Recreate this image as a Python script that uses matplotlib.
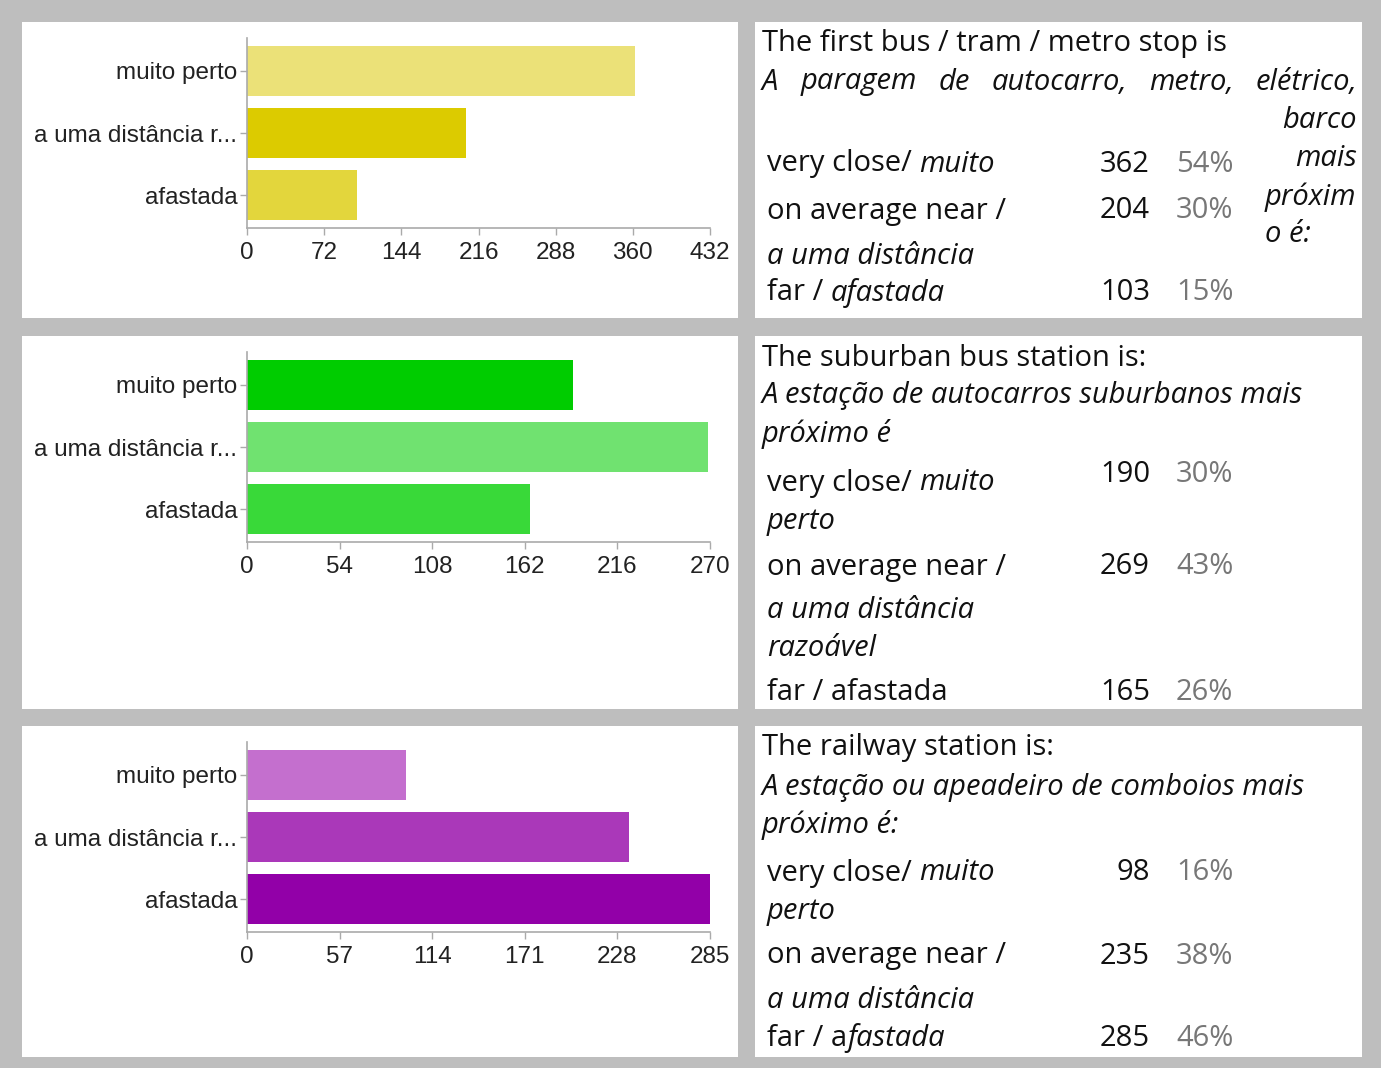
import matplotlib
matplotlib.use("Agg")
import matplotlib.pyplot as plt
from matplotlib.patches import Rectangle

# ---- data ----
categories = ["muito perto", "a uma distância r...", "afastada"]

stop_counts = [362, 204, 103]
stop_pcts = ["54%", "30%", "15%"]
stop_ticks = [0, 72, 144, 216, 288, 360, 432]
stop_colors = ["#ebe178", "#dccb00", "#e3d63c"]

suburban_counts = [190, 269, 165]
suburban_pcts = ["30%", "43%", "26%"]
suburban_ticks = [0, 54, 108, 162, 216, 270]
suburban_colors = ["#00cc00", "#70e270", "#39d939"]

rail_counts = [98, 235, 285]
rail_pcts = ["16%", "38%", "46%"]
rail_ticks = [0, 57, 114, 171, 228, 285]
rail_colors = ["#c46fce", "#aa38b9", "#9200a8"]

W, H = 1381, 1068
DPI = 100
fig = plt.figure(figsize=(W / DPI, H / DPI), dpi=DPI)
fig.patch.set_facecolor("#bebebe")

# overlay axes in pixel coordinates (y downward)
ov = fig.add_axes([0, 0, 1, 1], zorder=0)
ov.set_xlim(0, W)
ov.set_ylim(H, 0)
ov.axis("off")

# white panels: (x0, y0, x1, y1)
panels = [
    (22, 22, 738, 318), (755, 22, 1362, 318),
    (22, 336, 738, 709), (755, 336, 1362, 709),
    (22, 726, 738, 1057), (755, 726, 1362, 1057),
]
for x0, y0, x1, y1 in panels:
    ov.add_patch(Rectangle((x0, y0), x1 - x0, y1 - y0, facecolor="white",
                           edgecolor="none"))

CHART_FONT = ["Liberation Sans", "DejaVu Sans"]


def bar_chart(top, counts, colors, ticks):
    # axes spans from x=247 to x=710, vertical line from top to top+190
    left, right = 247, 710
    bottom = top + 190
    ax = fig.add_axes([left / W, 1 - bottom / H, (right - left) / W,
                       (bottom - top) / H], zorder=2)
    ax.patch.set_alpha(0)
    ypos = list(range(len(categories)))
    ax.barh(ypos, counts, height=0.806, color=colors, edgecolor="none")
    ax.set_ylim(2.53, -0.53)
    ax.set_xlim(ticks[0], ticks[-1])
    ax.set_xticks(ticks)
    ax.set_xticklabels([str(t) for t in ticks])
    ax.set_yticks(ypos)
    ax.set_yticklabels(categories)
    for s in ["top", "right"]:
        ax.spines[s].set_visible(False)
    for s in ["left", "bottom"]:
        ax.spines[s].set_color("#aaaaaa")
        ax.spines[s].set_linewidth(1.2)
    ax.tick_params(axis="both", colors="#aaaaaa", length=5, width=1,
                   labelcolor="#222222", labelsize=17.5)
    ax.tick_params(axis="x", pad=5)
    ax.tick_params(axis="y", pad=2)
    for lab in ax.get_xticklabels() + ax.get_yticklabels():
        lab.set_family(CHART_FONT)
    return ax


bar_chart(38, stop_counts, stop_colors, stop_ticks)
bar_chart(352, suburban_counts, suburban_colors, suburban_ticks)
bar_chart(742, rail_counts, rail_colors, rail_ticks)

# ---- right-hand text panels ----
TXT_FONT = ["Open Sans", "DejaVu Sans"]
FS = 21
DY = 3
fig.canvas.draw()
renderer = fig.canvas.get_renderer()


def put(x, y, s, italic=False, color="#111111", ha="left"):
    return ov.text(x, y + DY, s, fontsize=FS, family=TXT_FONT,
                   style="italic" if italic else "normal", color=color,
                   ha=ha, va="center")


def put_segments(x, y, segments):
    """Draw consecutive text pieces (text, italic) on one line."""
    cur = x
    for s, it in segments:
        t = put(cur, y, s, italic=it)
        bb = t.get_window_extent(renderer=renderer)
        cur += bb.width * (W / fig.bbox.width)
    return cur


def justify(x0, x1, y, words, italic=True):
    arts = [put(0, y, w, italic=italic) for w in words]
    widths = [a.get_window_extent(renderer=renderer).width * (W / fig.bbox.width)
              for a in arts]
    gap = (x1 - x0 - sum(widths)) / (len(words) - 1)
    cur = x0
    for a, w in zip(arts, widths):
        a.set_x(cur)
        cur += w + gap


def counts_block(rows, counts, pcts):
    for y, c, p in zip(rows, counts, pcts):
        put(1150, y, str(c), ha="right")
        put(1176, y, p, color="#777777")


# panel 1
put(762, 41, "The first bus / tram / metro stop is")
justify(762, 1357, 79, ["A", "paragem", "de", "autocarro,", "metro,", "elétrico,"])
put(1357, 117, "barco", italic=True, ha="right")
put(1357, 156, "mais", italic=True, ha="right")
put(1265, 194, "próxim", italic=True)
put(1265, 232, "o é:", italic=True)
put_segments(767, 161, [("very close/ ", False), ("muito", True)])
put(767, 208, "on average near /")
put(767, 253, "a uma distância", italic=True)
put_segments(767, 290, [("far / ", False), ("afastada", True)])
counts_block([161, 208, 290], stop_counts, stop_pcts)

# panel 2
put(762, 355, "The suburban bus station is:")
put(762, 393, "A estação de autocarros suburbanos mais", italic=True)
put(762, 431, "próximo é", italic=True)
put_segments(767, 480, [("very close/ ", False), ("muito", True)])
put(767, 518, "perto", italic=True)
put(767, 564, "on average near /")
put(767, 608, "a uma distância", italic=True)
put(767, 646, "razoável", italic=True)
put(767, 690, "far / afastada")
counts_block([472, 563, 690], suburban_counts, suburban_pcts)

# panel 3
put(762, 745, "The railway station is:")
put(762, 784, "A estação ou apeadeiro de comboios mais", italic=True)
put(762, 822, "próximo é:", italic=True)
put_segments(767, 870, [("very close/ ", False), ("muito", True)])
put(767, 908, "perto", italic=True)
put(767, 953, "on average near /")
put(767, 998, "a uma distância", italic=True)
put_segments(767, 1035, [("far / a", False), ("fastada", True)])
counts_block([870, 953, 1035], rail_counts, rail_pcts)

fig.savefig("out.png", dpi=DPI, facecolor=fig.get_facecolor())
